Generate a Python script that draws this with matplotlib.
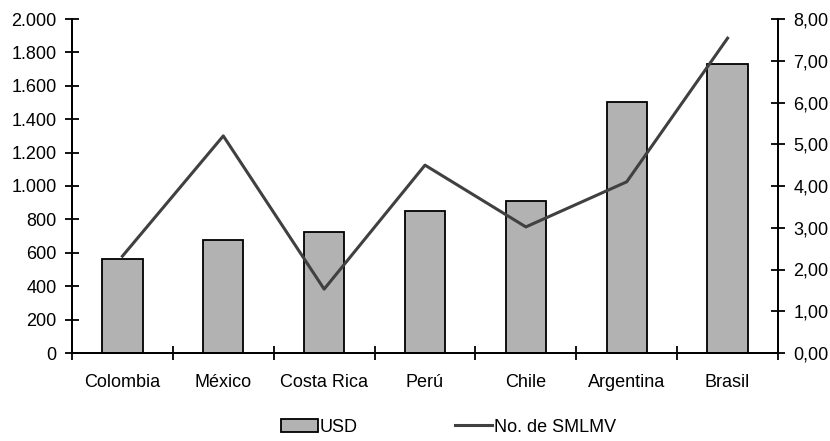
import matplotlib
matplotlib.use("Agg")
import matplotlib.pyplot as plt
from matplotlib.ticker import FixedLocator, FuncFormatter
from matplotlib.patches import Patch
from matplotlib.lines import Line2D
import numpy as np

countries = ["Colombia", "México", "Costa Rica", "Perú", "Chile", "Argentina", "Brasil"]
usd = [563, 675, 724, 850, 912, 1505, 1731]
smlmv = [2.32, 5.20, 1.53, 4.50, 3.02, 4.10, 7.54]

plt.rcParams["font.family"] = ["Liberation Sans", "DejaVu Sans"]
plt.rcParams["font.size"] = 13

fig = plt.figure(figsize=(8.3, 4.41), dpi=100)
ax = fig.add_axes([72 / 830, 1 - 353 / 441, 706 / 830, 334 / 441])
ax2 = ax.twinx()

x = np.arange(len(countries))
bar_color = "#b2b2b2"
line_color = "#404040"

ax.bar(x, usd, width=0.4, color=bar_color, edgecolor="black", linewidth=1.3, zorder=2)
ax2.plot(x, smlmv, color=line_color, linewidth=2.2, zorder=3)

ax.set_xlim(-0.5, len(countries) - 0.5)
ax.set_ylim(0, 2000)
ax2.set_ylim(0, 8)

for a in (ax, ax2):
    a.spines["top"].set_visible(False)
    for s in a.spines.values():
        s.set_linewidth(1.3)

ax.set_yticks(np.arange(0, 2001, 200))
ax.yaxis.set_major_formatter(FuncFormatter(lambda v, p: f"{int(v):,}".replace(",", ".")))
ax2.set_yticks(np.arange(0, 8.01, 1))
ax2.yaxis.set_major_formatter(FuncFormatter(lambda v, p: f"{v:.2f}".replace(".", ",")))

ax.set_xticks(x)
ax.set_xticklabels(countries)
ax.xaxis.set_minor_locator(FixedLocator(np.arange(-0.5, len(countries), 1.0)))
ax.tick_params(axis="x", which="major", length=0, pad=15, labelsize=13)
ax.tick_params(axis="x", which="minor", direction="inout", length=10, width=1.3)
ax.tick_params(axis="y", direction="inout", length=10, width=1.3, pad=6, labelsize=13)
ax2.tick_params(axis="y", direction="inout", length=10, width=1.3, pad=6, labelsize=13)

handles = [
    Patch(facecolor=bar_color, edgecolor="black", linewidth=1.3, label="USD"),
    Line2D([0], [0], color=line_color, linewidth=2.2, label="No. de SMLMV"),
]
fig.legend(handles=handles, loc="center", bbox_to_anchor=(0.54, 1 - 427 / 441), ncol=2,
           frameon=False, fontsize=13, handlelength=2.05, handletextpad=0.1,
           columnspacing=5.4, borderpad=0)

fig.savefig("out.png", dpi=100)
